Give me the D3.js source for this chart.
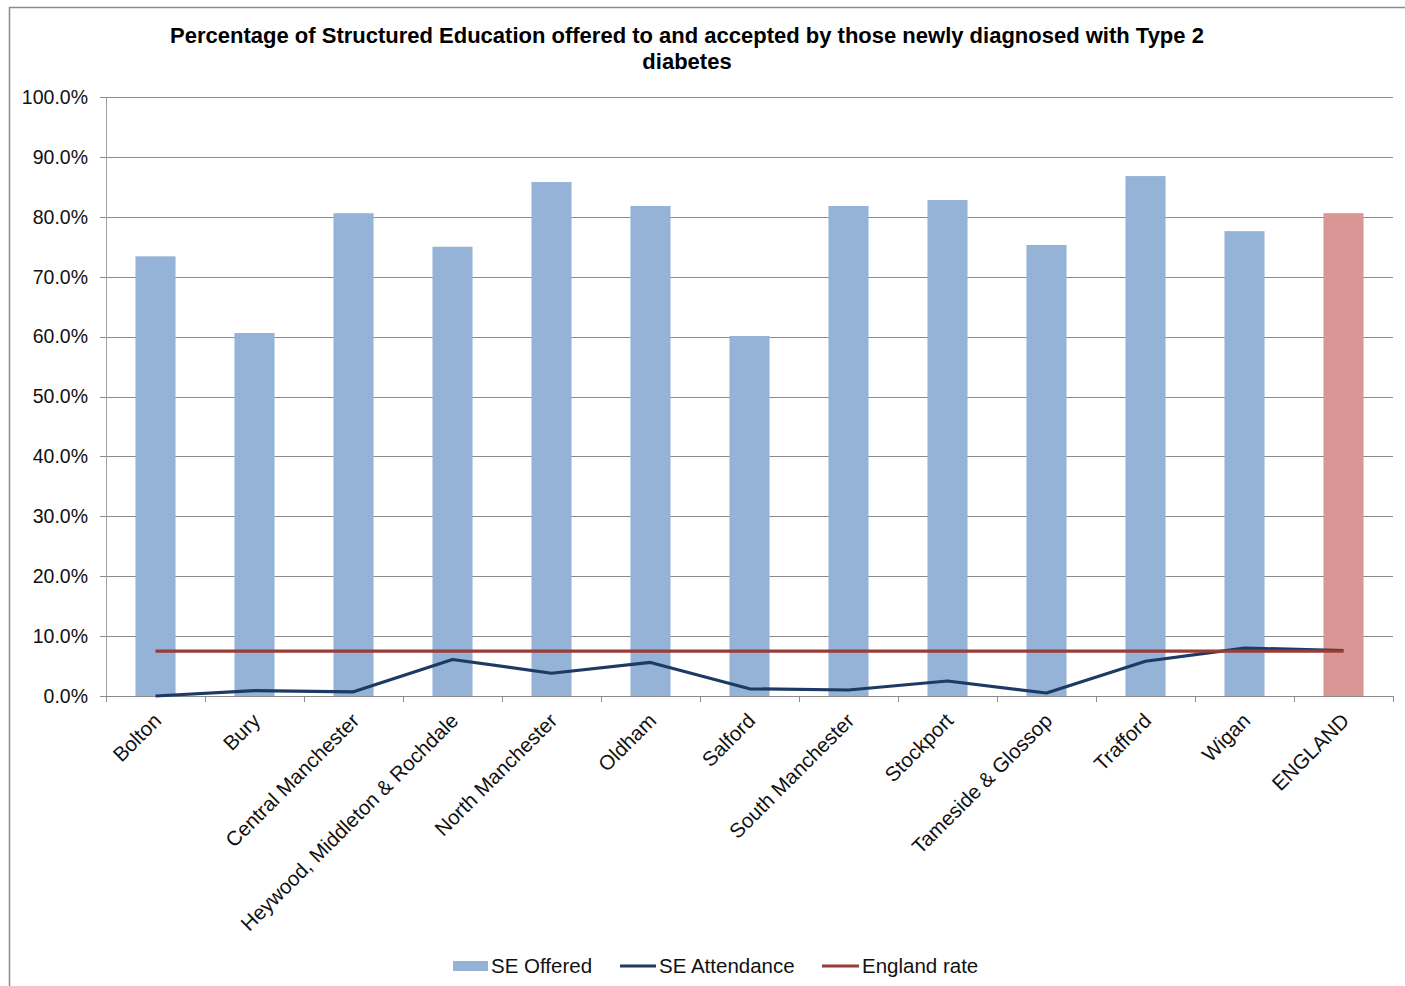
<!DOCTYPE html>
<html><head><meta charset="utf-8">
<script src="https://cdn.jsdelivr.net/npm/d3@7"></script>
<style>body{margin:0;background:#fff;}svg{display:block;font-family:"Liberation Sans",Arial,sans-serif;}</style>
</head><body>
<svg id="c" width="1405" height="986"></svg>
<script>
const categories = ["Bolton","Bury","Central Manchester","Heywood, Middleton & Rochdale","North Manchester","Oldham","Salford","South Manchester","Stockport","Tameside & Glossop","Trafford","Wigan","ENGLAND"];
const seOffered = [73.4, 60.6, 80.6, 75.0, 85.8, 81.8, 60.1, 81.8, 82.8, 75.3, 86.8, 77.6, 80.6];
const seAttendance = [0.0, 0.9, 0.7, 6.1, 3.8, 5.6, 1.2, 1.0, 2.5, 0.5, 5.8, 8.0, 7.6];
const englandRate = [7.5, 7.5, 7.5, 7.5, 7.5, 7.5, 7.5, 7.5, 7.5, 7.5, 7.5, 7.5, 7.5];
const yTicks = [0,10,20,30,40,50,60,70,80,90,100];
const titleLines = ["Percentage of Structured Education offered to and accepted by those newly diagnosed with Type 2","diabetes"];

const svg = d3.select("#c");
// frame
svg.append("path").attr("d","M9.5,986 V7.5 H1405").attr("fill","none").attr("stroke","#8c8c8c").attr("stroke-width",1.5);

const L=106, R=1393, T=97, B=696;
const x = d3.scaleBand().domain(categories).range([L,R]).paddingInner(0).paddingOuter(0);
const y = d3.scaleLinear().domain([0,100]).range([B,T]);
const bw = x.bandwidth()*0.405;

// gridlines
svg.append("g").selectAll("line").data(yTicks).join("line")
  .attr("x1",L-6).attr("x2",R).attr("y1",d=>Math.round(y(d))+0.5).attr("y2",d=>Math.round(y(d))+0.5)
  .attr("stroke","#8c8c8c").attr("stroke-width",1);
// y axis line
svg.append("line").attr("x1",L+0.5).attr("x2",L+0.5).attr("y1",T).attr("y2",B).attr("stroke","#a0a0a0");
// y labels
svg.append("g").selectAll("text").data(yTicks).join("text")
  .attr("x",88).attr("y",d=>y(d)).attr("dy","0.35em").attr("text-anchor","end")
  .attr("font-size",19.5).attr("fill","#111").text(d=>d.toFixed(1)+"%");

// bars
svg.append("g").selectAll("rect").data(categories).join("rect")
  .attr("x",d=>x(d)+x.bandwidth()/2-bw/2).attr("width",bw)
  .attr("y",(d,i)=>y(seOffered[i])).attr("height",(d,i)=>B-y(seOffered[i]))
  .attr("fill",(d,i)=>d==="ENGLAND"?"#d99694":"#95b3d7");

// x ticks
const tickPos = categories.map(d=>x(d)).concat([R]);
svg.append("g").selectAll("line").data(tickPos).join("line")
  .attr("x1",d=>Math.round(d)+0.5).attr("x2",d=>Math.round(d)+0.5).attr("y1",B).attr("y2",B+6)
  .attr("stroke","#8c8c8c");

// lines
const cx = d=>x(d)+x.bandwidth()/2;
const lineGen = arr => d3.line().x((d,i)=>cx(categories[i])).y((d,i)=>y(arr[i]))(categories);
svg.append("path").attr("d",lineGen(seAttendance)).attr("fill","none").attr("stroke","#1c3a63").attr("stroke-width",3.2).attr("stroke-linejoin","round");
svg.append("path").attr("d",lineGen(englandRate)).attr("fill","none").attr("stroke","#9a3b38").attr("stroke-width",3.2);

// x labels
svg.append("g").selectAll("text").data(categories).join("text")
  .attr("transform",d=>`translate(${cx(d)+7},${B+26}) rotate(-45)`)
  .attr("text-anchor","end").attr("font-size",20.5).attr("fill","#111").text(d=>d);

// title
svg.append("g").selectAll("text").data(titleLines).join("text")
  .attr("x",687).attr("y",(d,i)=>43+i*26).attr("text-anchor","middle")
  .attr("font-size",22).attr("font-weight","bold").attr("fill","#000").text(d=>d);

// legend
const lg = svg.append("g");
lg.append("rect").attr("x",453).attr("y",961).attr("width",35).attr("height",10).attr("fill","#95b3d7");
lg.append("text").attr("x",491).attr("y",973).attr("font-size",20.5).attr("fill","#111").text("SE Offered");
lg.append("line").attr("x1",620).attr("x2",656).attr("y1",966).attr("y2",966).attr("stroke","#1c3a63").attr("stroke-width",3);
lg.append("text").attr("x",659).attr("y",973).attr("font-size",20.5).attr("fill","#111").text("SE Attendance");
lg.append("line").attr("x1",822).attr("x2",859).attr("y1",966).attr("y2",966).attr("stroke","#9a3b38").attr("stroke-width",3);
lg.append("text").attr("x",862).attr("y",973).attr("font-size",20.5).attr("fill","#111").text("England rate");
</script>
</body></html>
